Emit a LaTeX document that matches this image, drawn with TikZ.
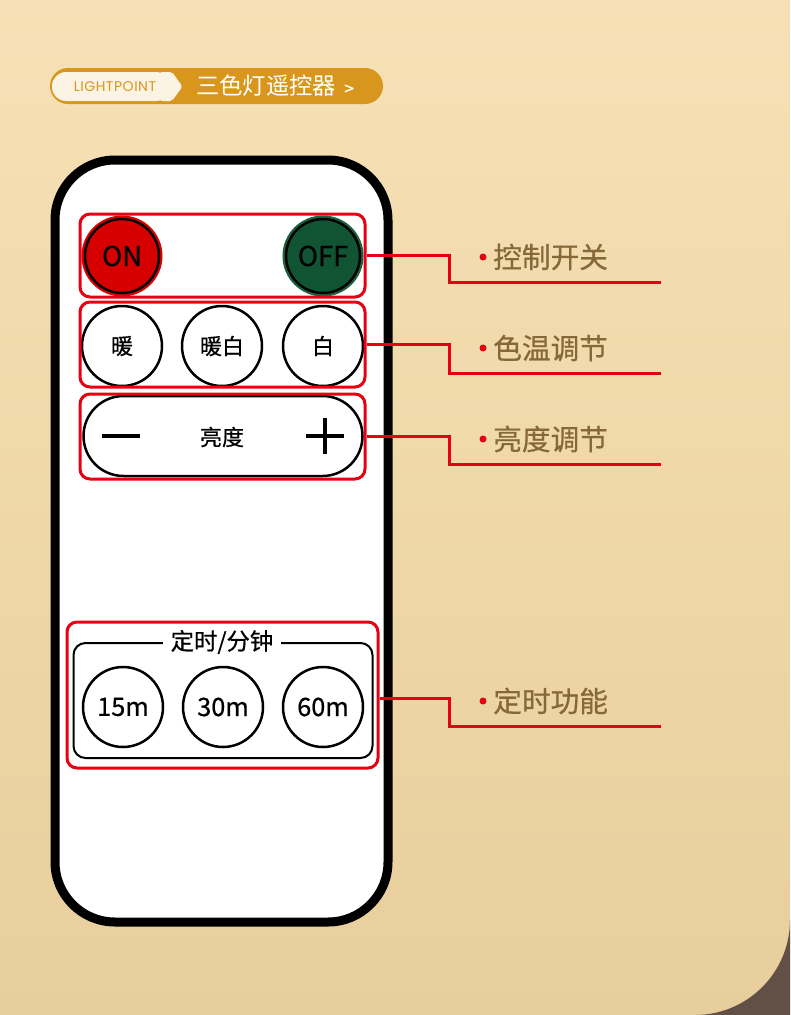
\documentclass[tikz,border=0pt]{standalone}
\usepackage{fontspec}
\setmainfont{Noto Sans CJK SC}
\newfontfamily\medfont[FakeBold=0.6]{Noto Sans CJK SC}
\newfontfamily\brandfont{Poppins}
\usetikzlibrary{positioning}

\definecolor{bgtop}{RGB}{246,225,182}
\definecolor{bgbottom}{RGB}{232,206,156}
\definecolor{cornerbrown}{RGB}{98,79,69}
\definecolor{headorange}{RGB}{217,150,28}
\definecolor{headcream}{RGB}{251,243,228}
\definecolor{markred}{RGB}{230,0,18}
\definecolor{onred}{RGB}{214,0,0}
\definecolor{offgreen}{RGB}{16,84,52}
\definecolor{offring}{RGB}{30,98,64}
\definecolor{calltext}{RGB}{135,104,56}
\newcommand{\pxu}{0.75pt}

\begin{document}
\begin{tikzpicture}[
  x=0.75pt, y=-0.75pt,
  redbox/.style={rectangle, draw=markred, line width=3*\pxu, rounded corners=10*\pxu},
  roundbtn/.style={circle, draw=black, line width=2.5*\pxu, fill=white, minimum size=80*\pxu, inner sep=0pt, font=\medfont\fontsize{16.5}{16.5}\selectfont},
  timebtn/.style={roundbtn, font=\medfont\fontsize{19}{19}\selectfont},
  powerbtn/.style={roundbtn, minimum size=74*\pxu, font=\medfont\fontsize{20.5}{20.5}\selectfont},
  callline/.style={draw=markred, line width=3*\pxu},
  callout/.style={anchor=west, text=calltext, inner sep=0pt, font=\medfont\fontsize{21.5}{21.5}\selectfont},
]
  % background
  \shade[top color=bgtop, bottom color=bgbottom] (0,0) rectangle (790,1015);
  \useasboundingbox (0,0) rectangle (790,1015);
  \fill[cornerbrown] (790,920) arc[start angle=0, end angle=90, radius=95] -- (790,1015) -- cycle;

  % header tag
  \node[rectangle, rounded corners=18*\pxu, fill=headorange, minimum width=333*\pxu, minimum height=36*\pxu] (header) at (216.5,86) {};
  \node[rectangle, rounded corners=14*\pxu, fill=headcream, minimum width=118*\pxu, minimum height=29*\pxu] (brand) at (111,86.5) {};
  \fill[headcream, rounded corners=2*\pxu] (160,72) -- (172,72) -- (182.5,86.5) -- (172,101) -- (160,101) -- cycle;
  \node[text=headorange, font=\brandfont\fontsize{10.5}{10.5}\selectfont] (brandtext) at (115,86.5) {L\kern0.4pt I\kern0.4pt G\kern0.4pt H\kern0.4pt T\kern0.4pt P\kern0.4pt O\kern0.4pt I\kern0.4pt N\kern0.4pt T};
  \node[anchor=west, text=white, inner sep=0pt, font=\fontsize{17.5}{17.5}\selectfont] (title) at (196,86) {三色灯遥控器\hspace{6pt}{\medfont\fontsize{13}{13}\selectfont >}};

  % remote body
  \node[rectangle, draw=black, line width=9*\pxu, fill=white, rounded corners=60*\pxu, minimum width=333*\pxu, minimum height=762*\pxu] (remote) at (221.5,541) {};

  % power buttons
  \node[powerbtn, fill=onred, preaction={draw=onred, line width=7*\pxu}] (on) at (122,256) {ON};
  \node[powerbtn, fill=offgreen, preaction={draw=offring, line width=7*\pxu}] (off) at (323,256) {OFF};
  \node[redbox, minimum width=285*\pxu, minimum height=83*\pxu] (box1) at (222.5,255.5) {};

  % colour temperature buttons
  \node[roundbtn] (warm) at (122,346) {暖};
  \node[roundbtn] (warmwhite) at (222,346) {暖白};
  \node[roundbtn] (white) at (323,346) {白};
  \node[redbox, minimum width=285*\pxu, minimum height=85*\pxu] (box2) at (222.5,344.5) {};

  % brightness rocker
  \node[rectangle, draw=black, line width=2.5*\pxu, rounded corners=40*\pxu, minimum width=279*\pxu, minimum height=80*\pxu] (dimmer) at (223,436) {};
  \node[font=\medfont\fontsize{16.5}{16.5}\selectfont] (dimtext) at (222,437) {亮度};
  \draw[line width=4*\pxu] ([xshift=20*\pxu]dimmer.west) -- ++(38,0);
  \draw[line width=4*\pxu] ([xshift=-20*\pxu]dimmer.east) -- ++(-38,0);
  \draw[line width=4*\pxu] ([xshift=-39*\pxu, yshift=18*\pxu]dimmer.east) -- ++(0,36);
  \node[redbox, minimum width=285*\pxu, minimum height=85*\pxu] (box3) at (222.5,436.5) {};

  % timer buttons
  \node[rectangle, draw=black, line width=2*\pxu, rounded corners=12*\pxu, minimum width=299*\pxu, minimum height=115*\pxu] (timerframe) at (223,700.5) {};
  \node[fill=white, inner xsep=6pt, inner ysep=1pt, font=\medfont\fontsize{17.5}{17.5}\selectfont] (timertext) at (222,642) {定时/分钟};
  \node[timebtn] (t15) at (123,707) {15m};
  \node[timebtn] (t30) at (223,707) {30m};
  \node[timebtn] (t60) at (323,707) {60m};
  \node[redbox, minimum width=311*\pxu, minimum height=146*\pxu] (box4) at (222.5,695) {};

  % callouts
  \coordinate (end1) at (661,282);
  \coordinate (end2) at (661,373);
  \coordinate (end3) at (661,464);
  \coordinate (end4) at (661,726);
  \draw[callline] (box1.east) -- ++(83,0) |- (end1);
  \draw[callline] (box2.east) -- ++(83,0) |- (end2);
  \draw[callline] (box3.east) -- ++(83,0) |- (end3);
  \draw[callline] ([yshift=-3*\pxu]box4.east) -- ++(70,0) |- (end4);

  \node[callout] (lbl1) at (493,257) {控制开关};
  \node[callout] (lbl2) at (493,348) {色温调节};
  \node[callout] (lbl3) at (493,439) {亮度调节};
  \node[callout] (lbl4) at (493,701) {定时功能};
  \fill[markred] ([xshift=-10*\pxu]lbl1.west) circle (3.5);
  \fill[markred] ([xshift=-10*\pxu]lbl2.west) circle (3.5);
  \fill[markred] ([xshift=-10*\pxu]lbl3.west) circle (3.5);
  \fill[markred] ([xshift=-10*\pxu]lbl4.west) circle (3.5);
\end{tikzpicture}
\end{document}
